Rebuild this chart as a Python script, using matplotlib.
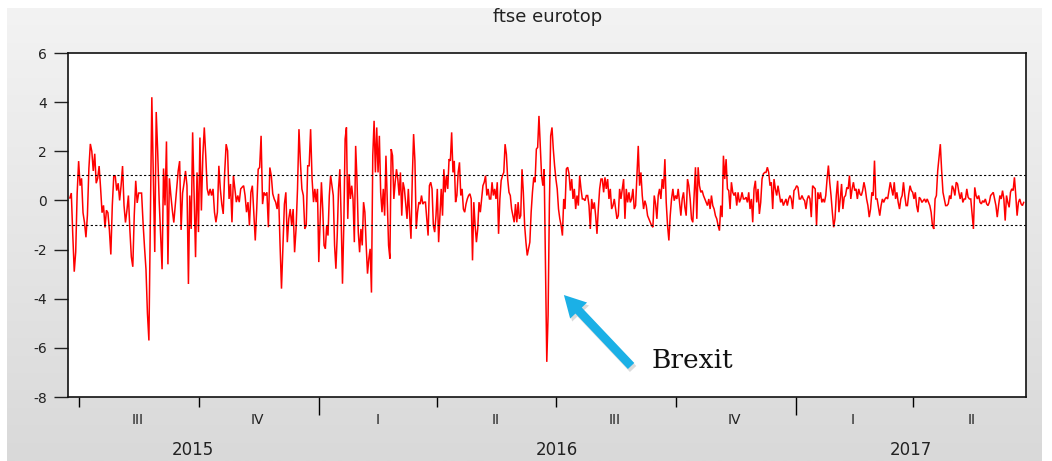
import numpy as np
import pandas as pd
import matplotlib
matplotlib.use("Agg")
import matplotlib.pyplot as plt
import matplotlib.transforms as mtransforms
from matplotlib.colors import LinearSegmentedColormap
from matplotlib.patches import FancyArrowPatch

# Daily returns of the FTSE Eurotop index (%), mid-2015 to mid-2017, in blocks
returns_a = [  # 2015-06-24 .. 2015-09-23
    0.1, 0.3, -1.4, -2.9, -2.1, 0.3, 1.6, 0.6, 0.9, -0.5,
    -0.9, -1.5, -0.6, 1.3, 2.3, 2.0, 1.2, 1.9, 0.7, 0.9,
    1.4, 0.5, -0.5, -0.2, -1.1, -0.4, -0.5, -1.2, -2.2, -0.2,
    1.0, 1.0, 0.4, 0.7, 0.0, 0.6, 1.4, -0.2, -0.9, -0.4,
    0.2, -1.2, -2.3, -2.7, -0.6, 0.8, -0.1, 0.3, 0.3, 0.3,
    -0.9, -1.9, -2.8, -4.6, -5.7, -0.7, 4.2, 1.0, -2.1, 3.6,
    2.0, 0.0, -1.4, -2.8, 1.3, -0.2, 2.4, -2.6, 0.9, 0.2,
    -0.4, -0.9, -0.2, 0.5, 1.2, 1.6, -1.2, 0.3, 0.7, 1.2,
    0.6, -3.4,
]
returns_b = [  # 2015-09-24 .. 2015-12-28
    0.2, -1.16, 2.77, 0.2, -2.31, 1.14, -1.29, 2.56, -0.41, 1.82,
    2.97, 1.82, 0.47, 0.2, 0.47, 0.2, 0.47, -0.48, -0.89, -0.48,
    1.41, 0.47, -0.15, -0.55, 1.14, 2.29, 2.02, 0.06, 0.67, -0.89,
    1.01, 0.47, -0.07, 0.2, -0.07, 0.47, 0.54, 0.6, 0.2, -0.48,
    -0.07, -1.02, 0.33, 0.6, -0.48, -1.63, -0.35, 1.27, 1.34, 2.63,
    -0.15, 0.33, 0.2, 0.33, -1.09, 1.34, 1.01, 0.27, 0.06, -0.07,
    -0.35, 0.27, -1.77, -3.59, -1.83, -0.15, 0.33, -1.70, -0.75, -0.35,
    -1.02, -0.35, -2.11, -1.16, 0.47, 2.9, 1.55, 0.47, 0.2, -1.16,
    -1.02, 1.41, 1.41, 2.9, 0.87, -0.07,
]
returns_c = [  # 2015-12-29 .. 2016-04-02
    0.47, -0.07, 0.47, -2.51, -0.89, 0.74, -0.35, -1.83, -1.97, -1.02,
    -1.43, 0.2, 1.01, 0.6, 0.2, -1.83, -2.78, -1.43, 0.47, 1.27,
    -0.75, -3.39, -1.02, 2.5, 2.97, -0.75, 1.07, 0.06, 0.6, 0.06,
    -1.7, 2.22, 0.87, -1.29, -2.11, -1.16, -1.83, -0.07, -0.48, -1.83,
    -2.98, -2.37, -1.97, -3.75, 1.82, 3.24, 1.14, 2.97, 1.14, 2.63,
    0.33, -0.48, 0.47, -0.62, 1.82, 0.06, -1.83, -2.37, 2.09, 1.82,
    0.06, 0.74, 1.27, 0.87, 0.2, 1.14, -0.62, 0.74, 0.47, -0.15,
    -0.75, 0.47, -0.62, -1.56, 0.87, 2.7, 1.61, -1.16, -0.48, -0.07,
    -0.15, 0.2, -0.15, -0.07, -0.07, -0.75, -1.43, 0.6, 0.74, 0.47,
    -1.02, -1.29, -0.62, 0.47, -1.7,
]
returns_d = [  # 2016-04-04 .. 2016-07-07
    0.47, -0.62, 1.27, 0.33, 1.01, 0.47, 1.68, 1.61, 2.77, 1.14,
    1.61, -0.07, 0.2, 1.14, 1.55, 0.2, 0.47, -0.35, -0.48, -0.15,
    0.06, 0.2, 0.27, 0.06, -2.44, -0.07, -1.02, -1.70, -1.16, -0.07,
    -0.48, 0.06, 0.6, 0.74, 1.01, 0.2, 0.47, 0.06, 0.06, 0.74,
    0.2, 0.47, 0.06, 0.74, -1.36, 0.06, 0.81, 1.01, 1.14, 2.29,
    1.88, 0.87, 0.33, 0.2, -0.35, -0.62, -0.89, -0.15, -0.89, -0.07,
    -0.75, -0.62, 1.27, 0.33, -1.02, -1.70, -2.24, -1.97, -1.70, -0.48,
    0.33, 0.94, 0.74, 2.09, 2.16, 3.44, 2.22, 1.01, 0.6, 1.27,
    -2.71, -6.57, -4.67, -0.15, 2.63, 2.97, 2.09, 1.41, 0.87, 0.47,
    -0.35, -0.75, -1.02, -1.43, 0.06,
]
returns_e = [  # 2016-07-08 .. 2016-10-10
    -0.35, 1.28, 1.35, 1.08, 0.40, 0.87, 0.06, 0.47, -0.35, 0.20,
    -0.21, 1.01, 0.47, 0.06, 0.06, -0.01, 0.20, 0.20, -0.21, -1.16,
    0.06, -0.35, -0.08, -0.62, -1.36, -0.35, 0.47, 0.87, 0.87, 0.33,
    0.94, 0.47, 0.87, 0.06, 0.47, -0.35, -0.21, 0.06, -0.35, -0.75,
    -0.62, 0.47, 0.06, 0.47, 0.87, -0.75, 0.47, -0.08, 0.33, -0.08,
    0.06, 0.47, -0.35, -0.21, 1.01, 2.22, 0.60, 1.14, 0.20, -0.35,
    -0.01, -0.21, -0.62, -0.75, -0.89, -1.02, -1.09, 0.20, -0.14, -0.75,
    0.20, 0.47, 0.06, 0.87, 0.47, 1.68, -0.08, -1.02, -1.63, -0.62,
    0.06, 0.47, -0.01, 0.20, 0.06, 0.47, -0.08, -0.62, 0.06, 0.33,
    -0.28, -0.62, 0.87,
]
returns_f = [  # 2016-10-11 .. 2017-01-14
    0.60, 0.06, -0.75, -0.89, 0.20, 1.35, -0.75, 1.35, 0.60, 0.33,
    0.40, 0.20, 0.06, -0.08, -0.21, 0.06, -0.35, 0.20, -0.21, -0.35,
    -0.62, -0.75, -1.02, -1.23, -0.21, -0.68, 1.82, 0.87, 1.68, 0.47,
    0.40, -0.35, 0.74, 0.33, 0.20, 0.33, -0.21, 0.33, -0.08, 0.06,
    0.33, 0.06, 0.06, 0.13, -0.08, 0.33, -0.35, 0.06, -0.89, 0.47,
    0.80, -0.08, 0.47, -0.55, -0.08, 0.87, 1.08, 1.14, 1.14, 1.35,
    1.14, 0.60, 0.74, -0.35, 0.87, 0.47, 0.20, 0.60, 0.26, -0.08,
    0.06, -0.21, -0.08, 0.06, -0.21, 0.06, 0.20, 0.06, -0.35, 0.40,
    0.47, 0.60, 0.53, 0.06, 0.06, 0.20, 0.06, -0.01, -0.35, 0.06,
    0.20, 0.06, -0.68, 0.60,
]
returns_g = [  # 2017-01-16 .. 2017-04-20
    0.47, -1.02, 0.33, 0.06, 0.33, -0.08, 0.06, -0.08, 0.20, 0.87,
    1.42, 0.74, 0.20, -0.48, -1.09, -0.75, 0.20, 0.80, -0.48, 0.06,
    0.67, -0.35, 0.13, 0.20, 0.53, 0.47, 1.01, 0.06, 0.47, 0.74,
    0.40, 0.47, 0.06, 0.47, 0.26, 0.20, 0.40, 0.74, 0.47, 0.06,
    -0.21, -0.68, -0.35, 0.33, 0.20, 1.62, 0.06, 0.06, -0.28, -0.62,
    -0.21, 0.06, -0.08, 0.06, 0.13, 0.06, 0.40, 0.74, 0.47, 0.20,
    0.74, 0.06, 0.33, -0.08, -0.35, 0.06, 0.20, 0.74, 0.20, -0.21,
    -0.21, 0.26, 0.60, 0.40, 0.33, 0.06, 0.33, -0.21, -0.48, 0.13,
    0.06, -0.08, -0.01, 0.06, -0.08, 0.06, -0.08, -0.21, -0.48, -1.02,
    -1.16, 0.06, 0.20, 1.21,
]
returns_h = [  # 2017-04-22 .. 2017-06-25
    2.29, 1.21, 0.33, 0.06, -0.21, -0.21, -0.14, 0.20, 0.06, 0.60,
    0.47, 0.20, 0.74, 0.67, 0.33, 0.06, 0.33, -0.08, 0.06, 0.06,
    0.47, 0.13, 0.06, 0.06, -0.55, -1.16, 0.53, 0.20, 0.06, 0.20,
    -0.08, -0.14, -0.01, -0.08, 0.06, -0.14, -0.21, -0.08, 0.20, 0.26,
    0.33, 0.06, -0.21, -0.68, -0.21, 0.20, 0.06, 0.40, 0.06, -0.82,
    0.20, -0.08, -0.28, 0.33, 0.47, 0.40, 0.94, 0.20, -0.62, -0.08,
    0.06, -0.14, -0.21, -0.08,
]
block_spans = [
    ("2015-06-24", "2015-09-23"), ("2015-09-24", "2015-12-28"),
    ("2015-12-29", "2016-04-02"), ("2016-04-04", "2016-07-07"),
    ("2016-07-08", "2016-10-10"), ("2016-10-11", "2017-01-14"),
    ("2017-01-16", "2017-04-20"), ("2017-04-22", "2017-06-25"),
]

band_upper = 1.05
band_lower = -1.0
quarter_labels = ["III", "IV", "I", "II", "III", "IV", "I", "II"]
quarter_starts = ["2015-07-01", "2015-10-01", "2016-01-01", "2016-04-01",
                  "2016-07-01", "2016-10-01", "2017-01-01", "2017-04-01"]
quarter_mids = ["2015-08-15", "2015-11-15", "2016-02-15", "2016-05-16",
                "2016-08-15", "2016-11-15", "2017-02-14", "2017-05-16"]
year_labels = ["2015", "2016", "2017"]
year_starts = ["2016-01-01", "2017-01-01"]
view_start = pd.Timestamp("2015-06-22 14:00")
view_end = pd.Timestamp("2017-06-26 18:00")

blocks = [returns_a, returns_b, returns_c, returns_d,
          returns_e, returns_f, returns_g, returns_h]
dates = pd.DatetimeIndex(np.concatenate([
    pd.date_range(s, e, periods=len(vals)).values
    for vals, (s, e) in zip(blocks, block_spans)]))
returns = np.concatenate(blocks)

W, H = 1052, 461
fig = plt.figure(figsize=(W / 100, H / 100), dpi=100)
fig.patch.set_facecolor("white")

# grey window backdrop with a soft vertical gradient
bg = fig.add_axes([7 / W, 0, (1042 - 7) / W, 1 - 8 / H], zorder=-10)
grad = np.linspace(0, 1, 256).reshape(-1, 1)
bg.imshow(grad, cmap=LinearSegmentedColormap.from_list("win", ["#f3f3f3", "#d9d9d9"]),
          aspect="auto", extent=[0, 1, 0, 1], origin="upper")
bg.axis("off")

x0, x1, y0, y1 = 68, 1026, 53, 397
ax = fig.add_axes([x0 / W, 1 - y1 / H, (x1 - x0) / W, (y1 - y0) / H])
ax.set_facecolor("white")
ax.plot(dates, returns, color="#ff0000", lw=1.1, solid_joinstyle="miter")
ax.axhline(band_upper, color="black", lw=0.8, ls=(0, (2, 2)))
ax.axhline(band_lower, color="black", lw=0.8, ls=(0, (2, 2)))

ax.set_ylim(-8, 6)
ax.set_xlim(view_start, view_end)
ax.set_yticks(np.arange(-8, 7, 2))
ax.set_yticklabels([str(v) for v in range(-8, 7, 2)])
ax.tick_params(axis="y", direction="out", length=10, width=1, pad=5,
               labelsize=10, colors="#222222")

ax.set_xticks(pd.to_datetime(year_starts))
ax.set_xticks(pd.to_datetime([q for q in quarter_starts if q not in year_starts]), minor=True)
ax.set_xticklabels([])
ax.tick_params(axis="x", which="major", direction="out", length=13, width=1, labelbottom=False)
ax.tick_params(axis="x", which="minor", direction="out", length=7, width=1, labelbottom=False)

for s in ax.spines.values():
    s.set_linewidth(1.2)
    s.set_color("#111111")

trans = mtransforms.blended_transform_factory(ax.transData, ax.transAxes)
for lab, mid in zip(quarter_labels, quarter_mids):
    ax.text(pd.Timestamp(mid), -0.068, lab, transform=trans, ha="center", va="center",
            fontsize=10, color="#222222")

year_bounds = [view_start] + list(pd.to_datetime(year_starts)) + [view_end]
for i, lab in enumerate(year_labels):
    c = year_bounds[i] + (year_bounds[i + 1] - year_bounds[i]) / 2
    ax.text(c, -0.155, lab, transform=trans, ha="center", va="center",
            fontsize=12, color="#222222")

fig.text(548 / W, 1 - 17 / H, "ftse eurotop", ha="center", va="center",
         fontsize=13, color="#222222")

# annotation arrow for the referendum shock
def px(x, y):
    return (x / W, 1 - y / H)

style = "simple,head_length=1.1,head_width=1.2,tail_width=0.45"
shadow = FancyArrowPatch(px(635, 371), px(564, 296), transform=fig.transFigure,
                         arrowstyle=style, mutation_scale=14, color="#9a9a9a",
                         alpha=0.35, lw=0)
fig.add_artist(shadow)
arrow = FancyArrowPatch(px(633, 368), px(562, 293), transform=fig.transFigure,
                        arrowstyle=style, mutation_scale=14, color="#1bb0e6", lw=0)
fig.add_artist(arrow)
fig.text(652 / W, 1 - 360 / H, "Brexit", ha="left", va="center",
         fontsize=19, family="DejaVu Serif", color="#111111")

fig.savefig("out.png", dpi=100)
